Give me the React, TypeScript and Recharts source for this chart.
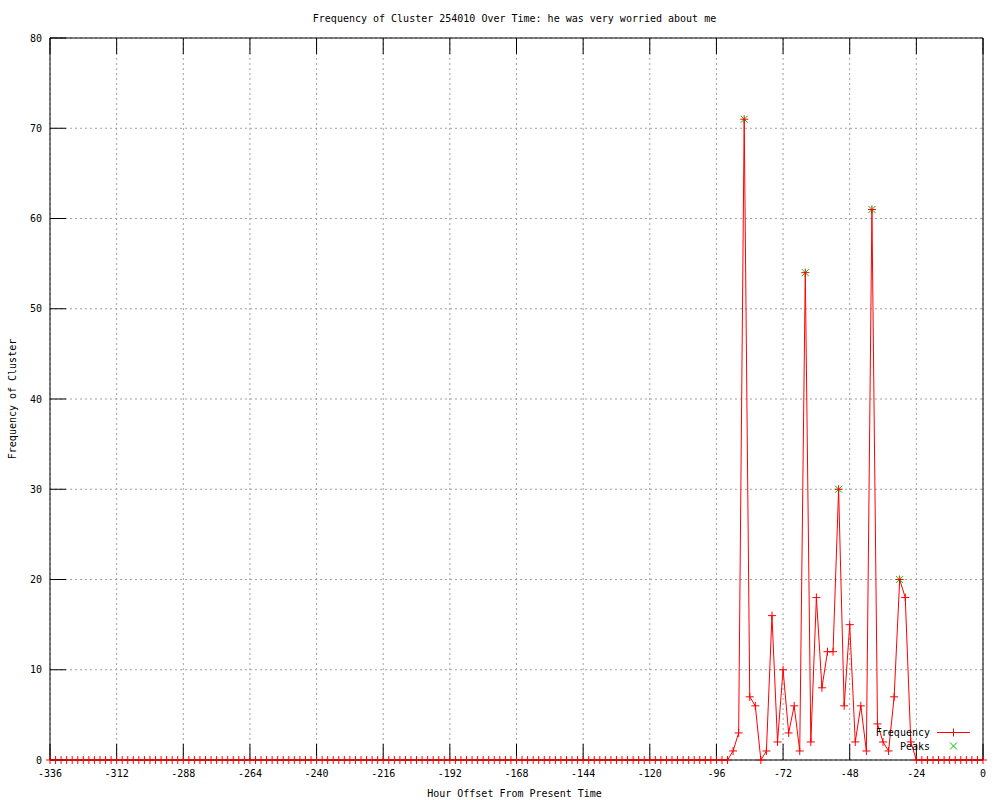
import { LineChart, Line, XAxis, YAxis, CartesianGrid, Label } from "recharts";

// hour offsets, one sample every 2 hours
const hours = [
  -336, -334, -332, -330, -328, -326, -324, -322, -320, -318, -316, -314,
  -312, -310, -308, -306, -304, -302, -300, -298, -296, -294, -292, -290,
  -288, -286, -284, -282, -280, -278, -276, -274, -272, -270, -268, -266,
  -264, -262, -260, -258, -256, -254, -252, -250, -248, -246, -244, -242,
  -240, -238, -236, -234, -232, -230, -228, -226, -224, -222, -220, -218,
  -216, -214, -212, -210, -208, -206, -204, -202, -200, -198, -196, -194,
  -192, -190, -188, -186, -184, -182, -180, -178, -176, -174, -172, -170,
  -168, -166, -164, -162, -160, -158, -156, -154, -152, -150, -148, -146,
  -144, -142, -140, -138, -136, -134, -132, -130, -128, -126, -124, -122,
  -120, -118, -116, -114, -112, -110, -108, -106, -104, -102, -100, -98,
  -96, -94, -92, -90, -88, -86, -84, -82, -80, -78, -76, -74,
  -72, -70, -68, -66, -64, -62, -60, -58, -56, -54, -52, -50,
  -48, -46, -44, -42, -40, -38, -36, -34, -32, -30, -28, -26,
  -24, -22, -20, -18, -16, -14, -12, -10, -8, -6, -4, -2,
  0,
];

const frequency = [
  0, 0, 0, 0, 0, 0, 0, 0, 0, 0, 0, 0,
  0, 0, 0, 0, 0, 0, 0, 0, 0, 0, 0, 0,
  0, 0, 0, 0, 0, 0, 0, 0, 0, 0, 0, 0,
  0, 0, 0, 0, 0, 0, 0, 0, 0, 0, 0, 0,
  0, 0, 0, 0, 0, 0, 0, 0, 0, 0, 0, 0,
  0, 0, 0, 0, 0, 0, 0, 0, 0, 0, 0, 0,
  0, 0, 0, 0, 0, 0, 0, 0, 0, 0, 0, 0,
  0, 0, 0, 0, 0, 0, 0, 0, 0, 0, 0, 0,
  0, 0, 0, 0, 0, 0, 0, 0, 0, 0, 0, 0,
  0, 0, 0, 0, 0, 0, 0, 0, 0, 0, 0, 0,
  0, 0, 0, 1, 3, 71, 7, 6, 0, 1, 16, 2,
  10, 3, 6, 1, 54, 2, 18, 8, 12, 12, 30, 6,
  15, 2, 6, 1, 61, 4, 2, 1, 7, 20, 18, 2,
  0, 0, 0, 0, 0, 0, 0, 0, 0, 0, 0, 0,
  0,
];

const peakHours = [-86, -64, -52, -40, -30];
const peakValues = [71, 54, 30, 61, 20];

const xTicks = [-336, -312, -288, -264, -240, -216, -192, -168, -144, -120, -96, -72, -48, -24, 0];
const yTicks = [0, 10, 20, 30, 40, 50, 60, 70, 80];

const data = hours.map((h, i) => {
  const p = peakHours.indexOf(h);
  return { hour: h, frequency: frequency[i], peak: p >= 0 ? peakValues[p] : null };
});

const FONT = "'DejaVu Sans Mono', monospace";
const RED = "#ff0000";
const GREEN = "#00c000";

const PlusDot = (props: any) => {
  const { cx, cy, index } = props;
  if (cx == null || cy == null || isNaN(cy)) return <g key={`p-${index}`} />;
  return (
    <path
      key={`p-${index}`}
      d={`M${cx - 4},${cy}h8M${cx},${cy - 4}v8`}
      stroke={RED}
      strokeWidth={1}
      fill="none"
    />
  );
};

const CrossDot = (props: any) => {
  const { cx, cy, index, value } = props;
  if (value == null || cx == null || cy == null || isNaN(cy)) return <g key={`x-${index}`} />;
  return (
    <path
      key={`x-${index}`}
      d={`M${cx - 3.5},${cy - 3.5}l7,7M${cx - 3.5},${cy + 3.5}l7,-7`}
      stroke={GREEN}
      strokeWidth={1}
      fill="none"
    />
  );
};

const tickStyle = { fontSize: 10, fontFamily: FONT, fill: "#000" };

export default function App() {
  return (
    <div style={{ position: "absolute", left: 0, top: 0, width: 1000, height: 800, background: "#fff" }}>
      <LineChart width={1000} height={800} data={data} margin={{ top: 0, right: 0, bottom: 0, left: 0 }}>
        <CartesianGrid stroke="#a0a0a0" strokeDasharray="2 3" />
        <XAxis
          dataKey="hour"
          type="number"
          domain={[-336, 0]}
          ticks={xTicks}
          interval={0}
          height={40}
          tickSize={-16}
          tickMargin={26}
          tick={tickStyle}
          axisLine={{ stroke: "#000" }}
          tickLine={{ stroke: "#000" }}
        >
          <Label
            content={(p: any) => {
              const vb = p.viewBox;
              return (
                <text x={vb.x + vb.width / 2 - 2} y={vb.y + 37} textAnchor="middle" fontSize={10} fontFamily={FONT} fill="#000">
                  Hour Offset From Present Time
                </text>
              );
            }}
          />
        </XAxis>
        <XAxis
          xAxisId="top"
          orientation="top"
          dataKey="hour"
          type="number"
          domain={[-336, 0]}
          ticks={xTicks}
          interval={0}
          height={38}
          tickSize={-16}
          tickFormatter={() => ""}
          axisLine={{ stroke: "#000" }}
          tickLine={{ stroke: "#000" }}
        >
          <Label
            content={(p: any) => {
              const vb = p.viewBox;
              return (
                <text x={vb.x + vb.width / 2 - 2} y={22} textAnchor="middle" fontSize={10} fontFamily={FONT} fill="#000">
                  Frequency of Cluster 254010 Over Time: he was very worried about me
                </text>
              );
            }}
          />
        </XAxis>
        <YAxis
          type="number"
          domain={[0, 80]}
          ticks={yTicks}
          interval={0}
          width={50}
          tickSize={-16}
          tickMargin={24}
          tick={tickStyle}
          axisLine={{ stroke: "#000" }}
          tickLine={{ stroke: "#000" }}
        >
          <Label
            content={(p: any) => {
              const vb = p.viewBox;
              const cy = vb.y + vb.height / 2;
              return (
                <text
                  x={16}
                  y={cy}
                  transform={`rotate(-90, 16, ${cy})`}
                  textAnchor="middle"
                  fontSize={10}
                  fontFamily={FONT}
                  fill="#000"
                >
                  Frequency of Cluster
                </text>
              );
            }}
          />
        </YAxis>
        <YAxis
          yAxisId="right"
          orientation="right"
          type="number"
          domain={[0, 80]}
          ticks={yTicks}
          interval={0}
          width={17}
          tickSize={-16}
          tickFormatter={() => ""}
          axisLine={{ stroke: "#000" }}
          tickLine={{ stroke: "#000" }}
        />
        <Line
          dataKey="peak"
          type="linear"
          stroke="none"
          dot={CrossDot}
          activeDot={false}
          connectNulls={false}
          isAnimationActive={false}
        />
        <Line
          dataKey="frequency"
          type="linear"
          stroke={RED}
          strokeWidth={1}
          dot={PlusDot}
          activeDot={false}
          isAnimationActive={false}
        />
      </LineChart>
      <svg
        width={1000}
        height={800}
        style={{ position: "absolute", left: 0, top: 0, pointerEvents: "none" }}
      >
        <text x={930} y={736} textAnchor="end" fontSize={10} fontFamily={FONT} fill="#000">
          Frequency
        </text>
        <path d="M937,732.5h33M953.5,728.5v8" stroke={RED} strokeWidth={1} fill="none" />
        <text x={930} y={750} textAnchor="end" fontSize={10} fontFamily={FONT} fill="#000">
          Peaks
        </text>
        <path d="M950,742.5l7,7M950,749.5l7,-7" stroke={GREEN} strokeWidth={1} fill="none" />
      </svg>
    </div>
  );
}
